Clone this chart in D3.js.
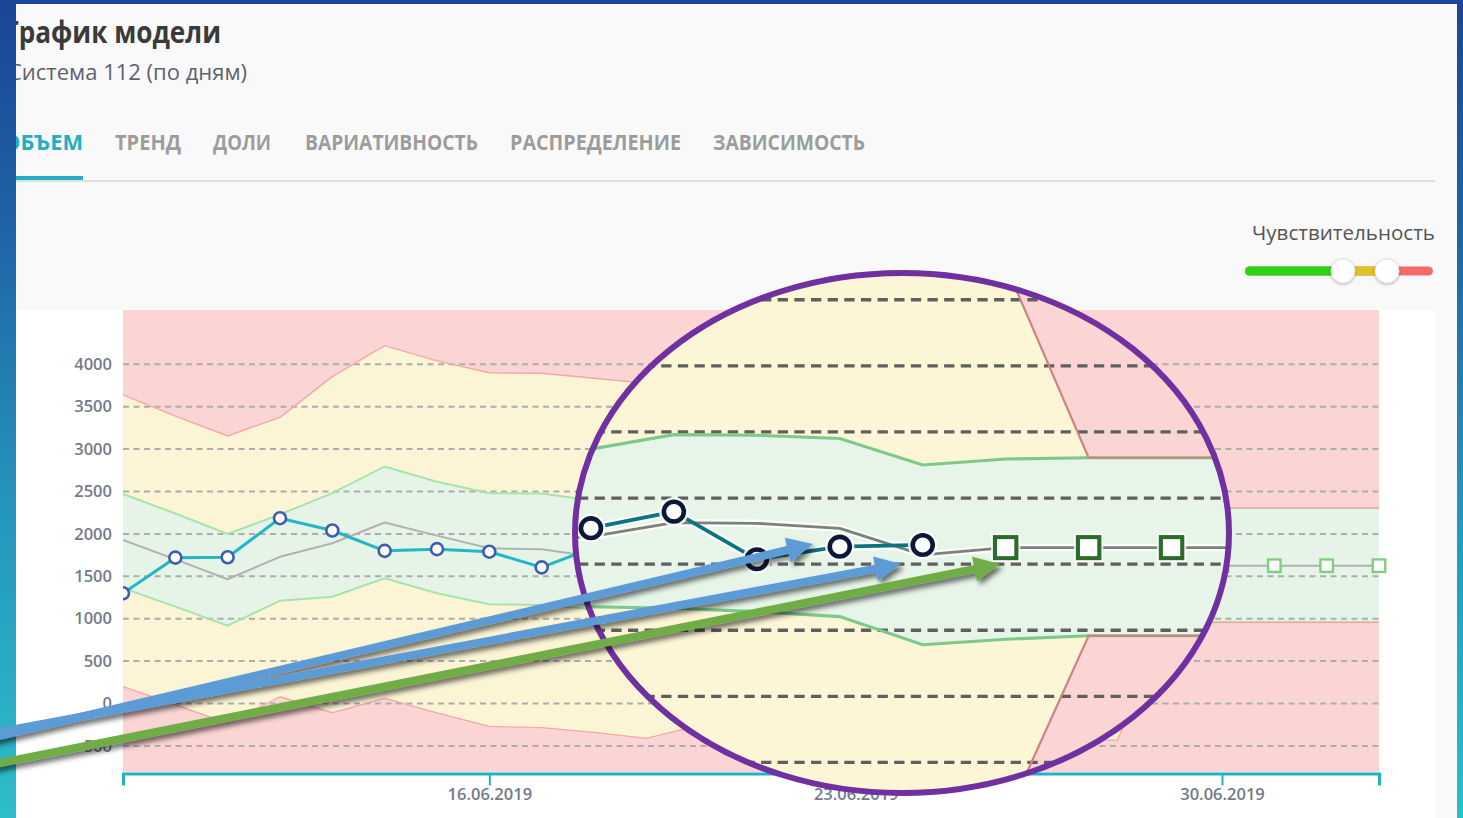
<!DOCTYPE html>
<html><head><meta charset="utf-8">
<script src="https://cdn.jsdelivr.net/npm/d3@7"></script>
<style>
html,body{margin:0;padding:0;overflow:hidden;background:#1d4b99;}
svg{display:block;}
text{font-family:"Open Sans","Noto Sans",sans-serif;}
</style></head><body>
<svg id="chart" width="1463" height="818"></svg>
<script>
// ---------------- data ----------------
const dateLabels = ["09.06.2019","10.06.2019","11.06.2019","12.06.2019","13.06.2019","14.06.2019","15.06.2019",
  "16.06.2019","17.06.2019","18.06.2019","19.06.2019","20.06.2019","21.06.2019","22.06.2019","23.06.2019",
  "24.06.2019","25.06.2019","26.06.2019","27.06.2019","28.06.2019","29.06.2019","30.06.2019","01.07.2019",
  "02.07.2019","03.07.2019"];
const actualValues   = [1300,1720,1725,2185,2040,1800,1820,1790,1605,1840,1950,1820,1650,1720,1772,1897,1537,1632,1645];
const modelValues    = [1930,1700,1465,1730,1890,2135,1980,1830,1818,1730,1760,1800,1700,1680,1708,1814,1809,1771,1570,1625,1625,1625,1625,1625,1625];
const forecastStart  = 19;
const forecastValues = [1625,1625,1625,1625,1625,1625];
const greenUpper = [2470,2240,2000,2230,2480,2795,2615,2480,2475,2390,2400,2450,2380,2330,2370,2480,2475,2450,2250,2295,2305,2305,2305,2305,2305];
const greenLower = [1360,1142,918,1212,1260,1476,1300,1170,1162,1110,1120,1150,1100,1120,1178,1166,1141,1103,890,932,958,958,958,958,958];
const redUpper   = [3640,3390,3155,3375,3855,4220,4040,3900,3895,3835,3775,3850,3950,3900,3950,4050,4000,3950,3850,3760,2305,2305,2305,2305,2305];
const redLower   = [198,-15,-234,80,-108,61,-110,-270,-285,-340,-411,-260,-350,-400,-450,-400,-420,-480,-450,-430,958,958,958,958,958];
const yTickValues = [-500,0,500,1000,1500,2000,2500,3000,3500,4000];
const xTickLabels = ["16.06.2019","23.06.2019","30.06.2019"];
const tabs = ["ОБЪЕМ","ТРЕНД","ДОЛИ","ВАРИАТИВНОСТЬ","РАСПРЕДЕЛЕНИЕ","ЗАВИСИМОСТЬ"];
const titleText = "График модели";
const subtitleText = "Система 112 (по дням)";
const sensitivityText = "Чувствительность";

// ---------------- setup ----------------
const parse = d3.timeParse("%d.%m.%Y");
const fmt = d3.timeFormat("%d.%m.%Y");
const dates = dateLabels.map(parse);
const W = 1463, H = 818;
const plotLeft = 123, plotRight = 1379, plotTop = 310, plotBottom = 772;
const x = d3.scaleTime().domain([dates[0], dates[dates.length-1]]).range([plotLeft, plotRight]);
const y = d3.scaleLinear().domain([-500, 4000]).range([745.9, 364.3]);

const svg = d3.select("#chart");
const defs = svg.append("defs");

const frameGrad = defs.append("linearGradient").attr("id","frameGrad")
  .attr("gradientUnits","userSpaceOnUse").attr("x1",0).attr("y1",0).attr("x2",0).attr("y2",H);
[[0,"#1b4597"],[0.3,"#1f66a8"],[0.62,"#2596bd"],[1,"#2dbdc9"]].forEach(([o,c]) =>
  frameGrad.append("stop").attr("offset",o).attr("stop-color",c));

defs.append("clipPath").attr("id","seriesClip").append("rect")
  .attr("x",plotLeft).attr("y",0).attr("width",1400).attr("height",H);

const lens = {cx:902, cy:533, rx:327, ry:260};
defs.append("clipPath").attr("id","lensClip").append("ellipse")
  .attr("cx",lens.cx).attr("cy",lens.cy).attr("rx",lens.rx).attr("ry",lens.ry);

const sh = defs.append("filter").attr("id","shadow").attr("x","-20%").attr("y","-50%").attr("width","140%").attr("height","200%");
sh.append("feDropShadow").attr("dx",3).attr("dy",4).attr("stdDeviation",2.5)
  .attr("flood-color","#000").attr("flood-opacity",0.55);
const knobSh = defs.append("filter").attr("id","knobShadow").attr("x","-50%").attr("y","-50%").attr("width","200%").attr("height","200%");
knobSh.append("feDropShadow").attr("dx",0).attr("dy",1).attr("stdDeviation",1.5)
  .attr("flood-color","#000").attr("flood-opacity",0.3);

// ---------------- panel ----------------
svg.append("rect").attr("x",0).attr("y",0).attr("width",W).attr("height",H).attr("fill","#f9f9f9");
svg.append("rect").attr("x",16).attr("y",310).attr("width",1419).attr("height",H-310).attr("fill","#ffffff");

svg.append("text").attr("x",4).attr("y",43).attr("font-size",30).attr("font-weight",700)
  .attr("fill","#3a3a3a").attr("textLength",217).attr("lengthAdjust","spacingAndGlyphs").text(titleText);
svg.append("text").attr("x",8).attr("y",80).attr("font-size",21).attr("font-weight",500)
  .attr("fill","#5d6270").attr("textLength",239).attr("lengthAdjust","spacingAndGlyphs").text(subtitleText);

const tabX = [3,115,213,305,510,713], tabW = [80,66,58,173,171,152];
svg.selectAll("text.tab").data(tabs).join("text").attr("class","tab")
  .attr("x",(d,i)=>tabX[i]).attr("y",150).attr("font-size",21).attr("font-weight",700)
  .attr("fill",(d,i)=> i===0 ? "#22aec3" : "#9c9c9c")
  .attr("textLength",(d,i)=>tabW[i]).attr("lengthAdjust","spacingAndGlyphs").text(d=>d);
svg.append("rect").attr("x",16).attr("y",180).attr("width",1419).attr("height",2).attr("fill","#dedede");
svg.append("rect").attr("x",16).attr("y",176).attr("width",67).attr("height",4).attr("fill","#22aec3");

svg.append("text").attr("x",1435).attr("y",240).attr("text-anchor","end").attr("font-size",20)
  .attr("fill","#555").attr("textLength",183).attr("lengthAdjust","spacingAndGlyphs").text(sensitivityText);
const slider = svg.append("g");
slider.append("rect").attr("x",1245).attr("y",266.5).attr("width",188).attr("height",9).attr("rx",4.5).attr("fill","#f76a6a");
slider.append("rect").attr("x",1245).attr("y",266.5).attr("width",143).attr("height",9).attr("rx",4.5).attr("fill","#e0c423");
slider.append("rect").attr("x",1245).attr("y",266.5).attr("width",98).attr("height",9).attr("rx",4.5).attr("fill","#2ad31c");
[1343,1387].forEach(cx => slider.append("circle").attr("cx",cx).attr("cy",271).attr("r",12)
  .attr("fill","#fff").attr("stroke","#e2e2e2").attr("stroke-width",1).attr("filter","url(#knobShadow)"));

// ---------------- chart drawing ----------------
const baseStyle = {red:"#fbd4d4", yellow:"#fbf4d5", green:"#e6f4e7", redLine:"#f3a9a9", greenLine:"#a7e3af",
  grid:"#adadad", gridW:2, dash:"6,4.5", model:"#b2b2b2", modelW:2, actual:"#22b6c6", actualW:3,
  circle:"#3c5ead", circleW:2.6, r:6, sq:"#80cf80", sqW:2.4, sqSize:12.5, halo:false};
const magStyle = {red:"#fbd4d4", yellow:"#fcf5d6", green:"#e6f5e8", redLine:"#cd8383", greenLine:"#7cc98a",
  grid:"#5f5f5f", gridW:2.1, dash:"6.5,4", model:"#7a827a", modelW:1.8, actual:"#0b7480", actualW:2.4,
  circle:"#0b1838", circleW:2.9, r:6.3, sq:"#2c6b2c", sqW:2.6, sqSize:13.5, halo:true};

function drawChart(g, S) {
  g.append("rect").attr("x",plotLeft).attr("y",plotTop).attr("width",plotRight-plotLeft)
    .attr("height",plotBottom-plotTop).attr("fill",S.red);
  const band = (lo, hi) => d3.area().x((d,i)=>x(dates[i])).y0((d,i)=>y(lo[i])).y1((d,i)=>y(hi[i]))(hi);
  g.append("path").attr("d", band(redLower, redUpper)).attr("fill", S.yellow);
  g.append("path").attr("d", band(greenLower, greenUpper)).attr("fill", S.green);
  const line = (arr, off=0) => d3.line().x((d,i)=>x(dates[i+off])).y(d=>y(d))(arr);
  // grid
  g.selectAll("line.grid").data(yTickValues).join("line").attr("class","grid")
    .attr("x1",plotLeft).attr("x2",plotRight).attr("y1",d=>y(d)).attr("y2",d=>y(d))
    .attr("stroke",S.grid).attr("stroke-width",S.gridW).attr("stroke-dasharray",S.dash);
  [greenUpper, greenLower].forEach(a => g.append("path").attr("d",line(a)).attr("fill","none")
    .attr("stroke",S.greenLine).attr("stroke-width",2));
  [redUpper, redLower].forEach(a => g.append("path").attr("d",line(a)).attr("fill","none")
    .attr("stroke",S.redLine).attr("stroke-width",1.4));
  const sg = g.append("g").attr("clip-path","url(#seriesClip)");
  if (S.halo) {
    sg.append("path").attr("d",line(modelValues)).attr("fill","none").attr("stroke","#fff")
      .attr("stroke-width",S.modelW+3).attr("stroke-opacity",0.8).attr("stroke-linejoin","round");
    sg.append("path").attr("d",line(actualValues)).attr("fill","none").attr("stroke","#fff")
      .attr("stroke-width",S.actualW+3).attr("stroke-opacity",0.85).attr("stroke-linejoin","round");
  }
  sg.append("path").attr("d",line(modelValues)).attr("fill","none").attr("stroke",S.model)
    .attr("stroke-width",S.modelW).attr("stroke-linejoin","round");
  sg.append("path").attr("d",line(actualValues)).attr("fill","none").attr("stroke",S.actual)
    .attr("stroke-width",S.actualW).attr("stroke-linejoin","round");
  if (S.halo) {
    sg.selectAll("circle.halo").data(actualValues).join("circle").attr("class","halo")
      .attr("cx",(d,i)=>x(dates[i])).attr("cy",d=>y(d)).attr("r",S.r+3).attr("fill","#fff").attr("opacity",0.85);
    sg.selectAll("rect.halo").data(forecastValues).join("rect").attr("class","halo")
      .attr("x",(d,i)=>x(dates[i+forecastStart])-S.sqSize/2-2.5).attr("y",d=>y(d)-S.sqSize/2-2.5)
      .attr("width",S.sqSize+5).attr("height",S.sqSize+5).attr("fill","#fff").attr("opacity",0.85);
  }
  sg.selectAll("circle.pt").data(actualValues).join("circle").attr("class","pt")
    .attr("cx",(d,i)=>x(dates[i])).attr("cy",d=>y(d)).attr("r",S.r)
    .attr("fill","#fff").attr("stroke",S.circle).attr("stroke-width",S.circleW);
  sg.selectAll("rect.fc").data(forecastValues).join("rect").attr("class","fc")
    .attr("x",(d,i)=>x(dates[i+forecastStart])-S.sqSize/2).attr("y",d=>y(d)-S.sqSize/2)
    .attr("width",S.sqSize).attr("height",S.sqSize)
    .attr("fill","#fff").attr("stroke",S.sq).attr("stroke-width",S.sqW);
}

// base chart
const base = svg.append("g");
drawChart(base, baseStyle);

// y axis labels
const yAxis = d3.axisLeft(y).tickValues(yTickValues).tickFormat(d3.format("d")).tickSize(0).tickPadding(11);
const yg = svg.append("g").attr("transform",`translate(${plotLeft},0)`).call(yAxis);
yg.select(".domain").remove();
yg.selectAll("text").attr("font-size",16.5).attr("font-weight",600).attr("fill","#747a88")
  .attr("font-family","'Open Sans',sans-serif");

// x axis
const xAxis = d3.axisBottom(x).tickValues(xTickLabels.map(parse)).tickFormat(fmt)
  .tickSize(12).tickSizeOuter(12).tickPadding(3);
const xg = svg.append("g").attr("transform",`translate(0,${plotBottom+1.5})`).call(xAxis);
xg.select(".domain").attr("stroke","#1fb2c6").attr("stroke-width",3);
xg.selectAll(".tick line").attr("stroke","#1fb2c6").attr("stroke-width",2);
xg.selectAll("text").attr("font-size",16.5).attr("font-weight",600).attr("fill","#747a88")
  .attr("font-family","'Open Sans',sans-serif");

// magnified lens
const magScaleX = 1.585, magScaleY = 1.559, magDX = -765.3, magDY = -334.3;
const lensG = svg.append("g").attr("clip-path","url(#lensClip)");
lensG.append("rect").attr("x",0).attr("y",0).attr("width",W).attr("height",H).attr("fill","#fff");
const magG = lensG.append("g").attr("transform",`translate(${magDX},${magDY}) scale(${magScaleX},${magScaleY})`);
drawChart(magG, magStyle);
svg.append("ellipse").attr("cx",lens.cx).attr("cy",lens.cy).attr("rx",lens.rx).attr("ry",lens.ry)
  .attr("fill","none").attr("stroke","#7030a0").attr("stroke-width",6);

// frame strips
svg.append("rect").attr("x",0).attr("y",0).attr("width",16).attr("height",H).attr("fill","url(#frameGrad)");
svg.append("rect").attr("x",1457).attr("y",0).attr("width",6).attr("height",H).attr("fill","url(#frameGrad)");
svg.append("rect").attr("x",0).attr("y",0).attr("width",W).attr("height",4).attr("fill","#1b4597");

// annotation arrows
const arrows = [
  {color:"#5b9bd5", from:[-60,750], to:[813,544]},
  {color:"#5b9bd5", from:[-60,743], to:[901,564]},
  {color:"#70ad47", from:[-60,775], to:[1000,564]}
];
const ag = svg.append("g").attr("filter","url(#shadow)");
arrows.forEach(a => {
  const [x0,y0] = a.from, [x1,y1] = a.to;
  const len = Math.hypot(x1-x0, y1-y0), ux = (x1-x0)/len, uy = (y1-y0)/len;
  const hl = 26, hw = 12.5;
  const bx = x1-ux*hl, by = y1-uy*hl;
  ag.append("line").attr("x1",x0).attr("y1",y0).attr("x2",bx+ux*2).attr("y2",by+uy*2)
    .attr("stroke",a.color).attr("stroke-width",8);
  ag.append("path").attr("d",`M${x1},${y1}L${bx-uy*hw},${by+ux*hw}L${bx+uy*hw},${by-ux*hw}Z`).attr("fill",a.color);
});
</script>
</body></html>
